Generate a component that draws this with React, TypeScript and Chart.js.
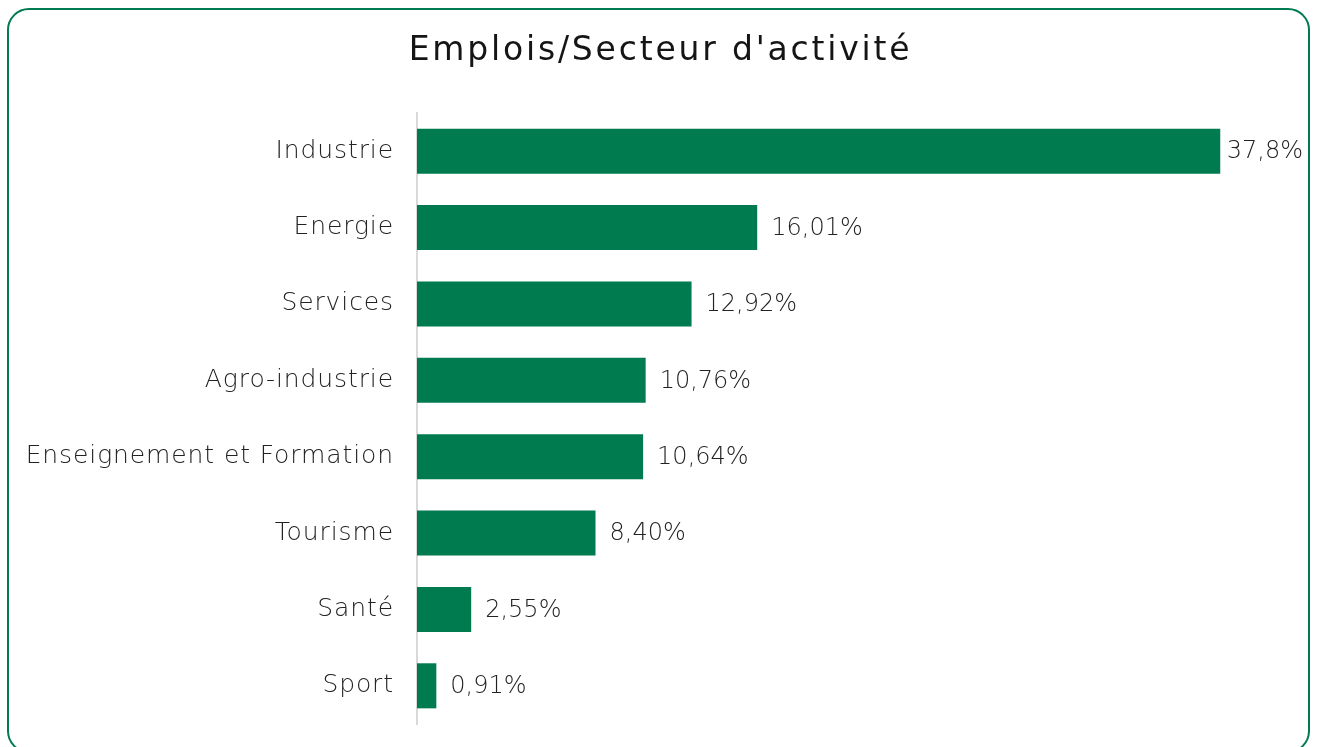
import React, { useEffect, useRef } from "react";
import { Chart, registerables } from "chart.js";

Chart.register(...registerables);

const categories = [
  "Industrie",
  "Energie",
  "Services",
  "Agro-industrie",
  "Enseignement et Formation",
  "Tourisme",
  "Santé",
  "Sport",
];
const values = [37.8, 16.01, 12.92, 10.76, 10.64, 8.4, 2.55, 0.91];
const valueLabels = ["37,8%", "16,01%", "12,92%", "10,76%", "10,64%", "8,40%", "2,55%", "0,91%"];
const title = "Emplois/Secteur d'activité";

const GREEN = "#007B4F";
const FONT = "'DejaVu Sans', sans-serif";

export default function App() {
  const ref = useRef<HTMLCanvasElement | null>(null);
  useEffect(() => {
    const canvas = ref.current!;
    const spacingPlugin = {
      id: "spacing",
      beforeDraw(chart: any) {
        (chart.ctx as any).letterSpacing = "0.9px";
      },
    };
    const titlePlugin = {
      id: "titleText",
      afterDraw(chart: any) {
        const ctx = chart.ctx;
        ctx.save();
        ctx.font = `normal 33px ${FONT}`;
        (ctx as any).letterSpacing = "2.8px";
        ctx.fillStyle = "#151515";
        ctx.textAlign = "center";
        ctx.textBaseline = "middle";
        ctx.fillText(title, chart.width / 2 + 1, 51);
        ctx.restore();
      },
    };
    const valuePlugin = {
      id: "valueLabels",
      afterDatasetsDraw(chart: any) {
        const ctx = chart.ctx;
        const meta = chart.getDatasetMeta(0);
        ctx.save();
        ctx.font = `200 24px ${FONT}`;
        (ctx as any).letterSpacing = "0px";
        ctx.fillStyle = "#222";
        ctx.textAlign = "left";
        ctx.textBaseline = "middle";
        meta.data.forEach((bar: any, i: number) => {
          const txt = valueLabels[i];
          const w = ctx.measureText(txt).width;
          const x = Math.min(bar.x + 14, chart.width - w - 16);
          ctx.fillText(txt, x, bar.y + 1);
        });
        ctx.restore();
      },
    };
    const chart = new Chart(canvas, {
      type: "bar",
      data: {
        labels: categories,
        datasets: [
          {
            data: values,
            backgroundColor: GREEN,
            borderWidth: 0,
            categoryPercentage: 1,
            barPercentage: 0.59,
          },
        ],
      },
      options: {
        indexAxis: "y",
        animation: false,
        responsive: false,
        maintainAspectRatio: false,
        layout: { padding: { top: 113, right: 52, bottom: 23, left: 0 } },
        plugins: {
          legend: { display: false },
          tooltip: { enabled: false },
          title: { display: false },
        },
        scales: {
          x: { display: false, min: 0, max: 40 },
          y: {
            afterFit(scale: any) {
              scale.width = 417;
              scale.paddingTop = 0;
              scale.paddingBottom = 0;
            },
            grid: { display: false, drawTicks: false },
            border: { display: true, color: "#d9d9d9", width: 2 },
            ticks: {
              color: "#222",
              padding: 23,
              font: { family: FONT, size: 25, weight: "200" as any },
            },
          },
        },
      },
      plugins: [spacingPlugin, titlePlugin, valuePlugin],
    });
    return () => chart.destroy();
  }, []);

  return (
    <div style={{ position: "fixed", left: 0, top: 0, width: 1319, height: 747, background: "#fff", overflow: "hidden" }}>
      <div
        style={{
          position: "absolute",
          left: 7,
          top: 8,
          width: 1303,
          height: 745,
          border: `2px solid ${GREEN}`,
          borderRadius: 22,
          boxSizing: "border-box",
        }}
      />
      <canvas ref={ref} width={1319} height={747} style={{ position: "absolute", left: 0, top: 0 }} />
    </div>
  );
}
